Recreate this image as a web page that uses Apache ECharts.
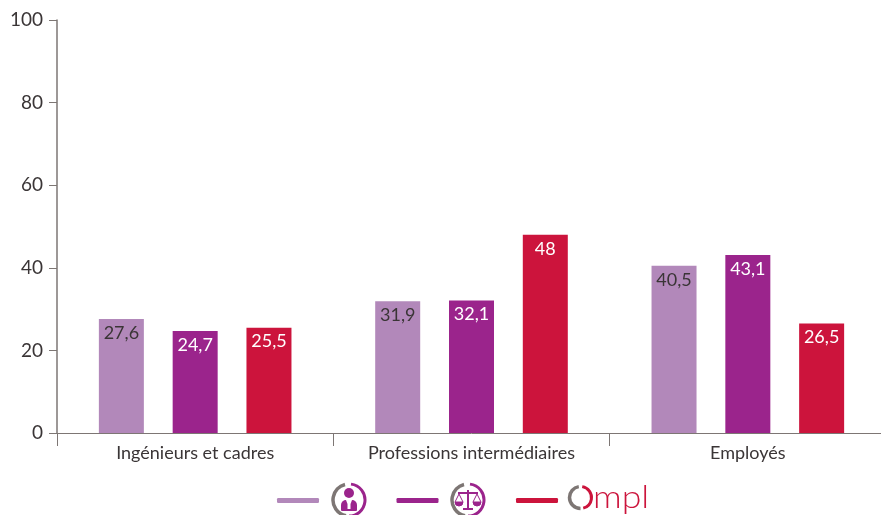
<!DOCTYPE html>
<html>
<head>
<meta charset="utf-8">
<style>html,body{margin:0;padding:0;background:#fff;overflow:hidden;width:881px;height:515px}#chart{width:886px;height:515px}</style>
<script src="https://cdn.jsdelivr.net/npm/echarts@6/dist/echarts.min.js"></script>
</head>
<body>
<div id="chart"></div>
<script>
var categories = ['Ingénieurs et cadres', 'Professions intermédiaires', 'Employés'];
var seriesNames = ['Cadres', 'Justice', 'Ompl'];
var valuesA = [27.6, 31.9, 40.5];
var valuesB = [24.7, 32.1, 43.1];
var valuesC = [25.5, 48, 26.5];
var yTicks = [0, 20, 40, 60, 80, 100];

var FONT = 'Lato';
var TEXT = '#3a3536';
var GREY = '#7d7674';
var LILAC = '#b288ba';
var PURPLE = '#9b248c';
var RED = '#cc143c';

var chart = echarts.init(document.getElementById('chart'), null, {renderer: 'canvas'});

function barSeries(name, data, color, labelColor) {
  return {
    name: name,
    type: 'bar',
    data: data,
    barWidth: 45,
    barGap: '64%',
    itemStyle: {color: color},
    label: {
      show: true,
      position: 'insideTop',
      distance: 5,
      color: labelColor,
      fontFamily: FONT,
      fontSize: 18,
      formatter: function (p) { return String(p.value).replace('.', ','); }
    }
  };
}

// circular badge of the two legend logos
function ring(cx, cy, extra) {
  return [
    {type: 'arc', silent: true, shape: {cx: cx, cy: cy, r: 16, startAngle: Math.PI * 0.56, endAngle: Math.PI * 1.42},
      style: {stroke: GREY, lineWidth: 3.5, fill: null}},
    {type: 'arc', silent: true, shape: {cx: cx, cy: cy, r: 16, startAngle: Math.PI * 1.54, endAngle: Math.PI * 0.5},
      style: {stroke: PURPLE, lineWidth: 3, fill: null}}
  ].concat(extra);
}

var logos = ring(349, 500, [
  {type: 'circle', silent: true, shape: {cx: 349, cy: 493, r: 5}, style: {fill: PURPLE}},
  {type: 'rect', silent: true, shape: {x: 341, y: 500, width: 16, height: 11, r: [5, 5, 1, 1]}, style: {fill: PURPLE}},
  {type: 'polygon', silent: true, shape: {points: [[346, 500], [352, 500], [350.5, 504], [350.5, 509], [347.5, 509], [347.5, 504]]}, style: {fill: '#fff'}}
]).concat(ring(468, 500, [
  {type: 'line', silent: true, shape: {x1: 468, y1: 490, x2: 468, y2: 509}, style: {stroke: PURPLE, lineWidth: 2}},
  {type: 'line', silent: true, shape: {x1: 458, y1: 493, x2: 478, y2: 493}, style: {stroke: PURPLE, lineWidth: 2}},
  {type: 'line', silent: true, shape: {x1: 463, y1: 509, x2: 473, y2: 509}, style: {stroke: PURPLE, lineWidth: 2}},
  {type: 'polygon', silent: true, shape: {points: [[455, 502], [459, 494], [463, 502]]}, style: {stroke: PURPLE, lineWidth: 1, fill: null}},
  {type: 'polygon', silent: true, shape: {points: [[473, 502], [477, 494], [481, 502]]}, style: {stroke: PURPLE, lineWidth: 1, fill: null}},
  {type: 'arc', silent: true, shape: {cx: 459, cy: 502, r: 4, startAngle: 0, endAngle: Math.PI}, style: {fill: PURPLE, stroke: PURPLE}},
  {type: 'arc', silent: true, shape: {cx: 477, cy: 502, r: 4, startAngle: 0, endAngle: Math.PI}, style: {fill: PURPLE, stroke: PURPLE}}
])).concat([
  {type: 'arc', silent: true, shape: {cx: 580.5, cy: 497.5, r: 11, startAngle: Math.PI * 0.5, endAngle: Math.PI * 1.45},
    style: {stroke: GREY, lineWidth: 3.5, fill: null}},
  {type: 'arc', silent: true, shape: {cx: 580.5, cy: 497.5, r: 11, startAngle: Math.PI * 1.55, endAngle: Math.PI * 0.42},
    style: {stroke: RED, lineWidth: 3, fill: null}},
  {type: 'text', silent: true, x: 593, y: 482, scaleX: 1.15, style: {x: 0, y: 0, text: 'mpl', fill: RED, font: '300 31px ' + FONT}}
]);

chart.setOption({
  animation: false,
  backgroundColor: '#fff',
  grid: {left: 57, width: 829, top: 20, height: 413, containLabel: false},
  legend: {
    left: 277,
    top: 498,
    padding: 0,
    itemWidth: 42,
    itemHeight: 5,
    itemGap: 77.5,
    icon: 'roundRect',
    data: seriesNames,
    selectedMode: false,
    formatter: function () { return ''; }
  },
  xAxis: {
    type: 'category',
    data: categories,
    axisLine: {lineStyle: {color: GREY, width: 1}},
    axisTick: {show: true, length: 13, lineStyle: {color: GREY}},
    axisLabel: {color: TEXT, fontFamily: FONT, fontSize: 18, margin: 11, interval: 0}
  },
  yAxis: {
    type: 'value',
    min: 0,
    max: 100,
    interval: yTicks[1] - yTicks[0],
    splitLine: {show: false},
    axisLine: {show: true, lineStyle: {color: GREY, width: 1.5}},
    axisTick: {show: true, length: 8, lineStyle: {color: GREY}},
    axisLabel: {color: TEXT, fontFamily: FONT, fontSize: 19, margin: 14}
  },
  series: [
    barSeries(seriesNames[0], valuesA, LILAC, TEXT),
    barSeries(seriesNames[1], valuesB, PURPLE, '#fff'),
    barSeries(seriesNames[2], valuesC, RED, '#fff')
  ],
  graphic: logos
});

window.addEventListener('resize', function () {
  chart.resize();
});
</script>
</body>
</html>
